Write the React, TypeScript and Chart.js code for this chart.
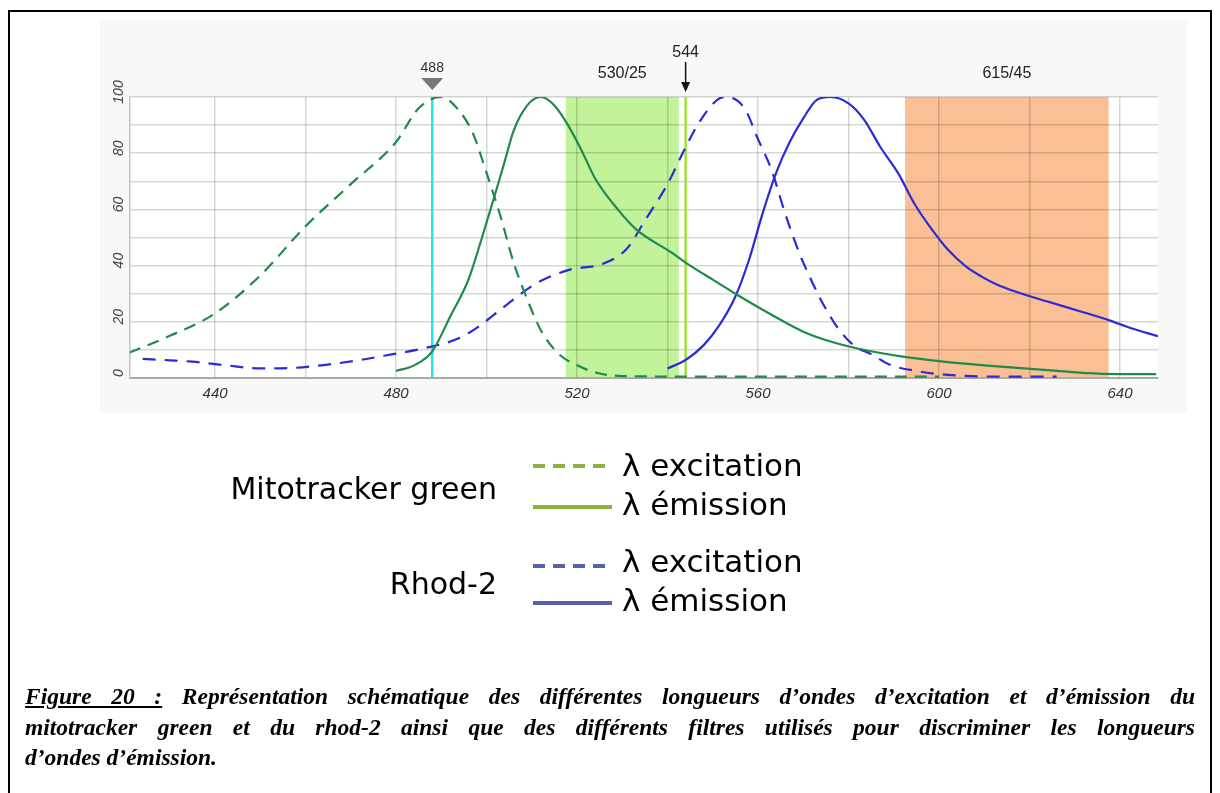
import React, { useEffect, useRef } from 'react';
import { Chart, registerables } from 'chart.js';

Chart.register(...registerables);

// ---------- data ----------
const X_MIN = 421.2;
const X_MAX = 648.4;
const X_GRID = [440, 460, 480, 500, 520, 540, 560, 580, 600, 620, 640];
const X_TICK_LABELS = [440, 480, 520, 560, 600, 640];
const Y_GRID = [0, 10, 20, 30, 40, 50, 60, 70, 80, 90, 100];
const Y_TICK_LABELS = [0, 20, 40, 60, 80, 100];

// Mitotracker green excitation
const MITO_EX_NM = [421, 430, 440, 450, 460, 470, 480, 485, 490, 494, 497, 500, 503, 506, 509, 512, 516, 520, 525, 530, 545, 570, 600];
const MITO_EX_VAL = [9, 15, 23, 36.5, 54, 69, 84, 96, 100, 95, 87, 73, 58, 41, 28, 17, 8.5, 4.5, 1.6, 0.7, 0.5, 0.5, 0.5];

// Mitotracker green emission
const MITO_EM_NM = [480, 484, 488, 492, 496, 499, 502, 504, 506, 509, 512, 515, 518, 521, 524, 529, 533, 541, 545, 550, 555, 563, 570, 576, 582, 592, 600, 610, 624, 636, 648];
const MITO_EM_VAL = [2.5, 4.5, 9.5, 22, 35, 50, 66, 77, 88, 97, 100, 97, 90, 81, 71, 60, 53, 44.5, 40, 35, 30, 22.5, 16.5, 13, 10.5, 7.6, 6, 4.5, 2.8, 1.5, 1.4];

// Rhod-2 excitation
const RHOD_EX_NM = [424, 430, 435, 442, 450, 456, 464, 472, 479, 486, 494, 498, 504, 511, 518, 526, 531, 535, 540, 543.5, 547, 551, 553, 557, 560, 563, 566, 569, 572, 574.5, 578, 581.5, 585, 589, 595, 602, 615, 626];
const RHOD_EX_VAL = [6.8, 6.3, 5.8, 4.6, 3.4, 3.5, 4.6, 6.4, 8.4, 10.5, 14.2, 18, 25.5, 33.7, 38.4, 40.8, 46, 56, 69, 80.5, 91, 99, 100, 96, 85, 74, 58.5, 45, 34, 26, 17, 11.2, 8.5, 4.8, 2.5, 1.1, 0.5, 0.5];

// Rhod-2 emission
const RHOD_EM_NM = [540, 544, 548, 551.5, 555, 558, 561, 564, 567, 570, 573, 576, 580, 583.5, 587, 591, 594.5, 598.5, 602, 606, 609.5, 613, 617, 624, 631.5, 637.5, 642.5, 648.4];
const RHOD_EM_VAL = [3.4, 6.4, 11.7, 18.9, 29, 42, 58.5, 73, 84, 92.4, 99, 100, 97.7, 91.8, 82.3, 72.8, 62.2, 52.7, 45.6, 39.6, 36, 33.1, 30.7, 27.2, 23.6, 20.6, 17.7, 14.9];

const LASER_NM = 488;
const LASER_LABEL = '488';
const SPLIT_NM = 544;
const SPLIT_LABEL = '544';
const FILTER_CENTERS = [530, 615];
const FILTER_WIDTHS = [25, 45];
const FILTER_LABELS = ['530/25', '615/45'];

const LEGEND_GROUPS = ['Mitotracker green', 'Rhod-2'];
const LEGEND_ITEMS = ['\u03bb excitation', '\u03bb \u00e9mission'];

const CAPTION_LEAD = 'Figure 20\u00a0:';
const CAPTION_LINES = [
  ' Repr\u00e9sentation sch\u00e9matique des diff\u00e9rentes longueurs d\u2019ondes d\u2019excitation et d\u2019\u00e9mission du',
  'mitotracker green et du rhod-2 ainsi que des diff\u00e9rents filtres utilis\u00e9s pour discriminer les longueurs',
  'd\u2019ondes d\u2019\u00e9mission.',
];

// ---------- styles ----------
const GREEN = '#1f8a4c';
const BLUE = '#2b2bd6';
const FILTER_COLORS = ['#c2f29a', '#fbbf95'];
const LASER_COLOR = '#22e4f2';
const SPLIT_COLOR = '#9ee03a';
const GRID_COLOR = 'rgba(0,0,0,0.16)';
const LEGEND_COLORS = ['#8cb43c', '#5560b0'];
const SANS = '"Liberation Sans", Arial, sans-serif';

const toPts = (nm: number[], v: number[]) => nm.map((x, i) => ({ x, y: v[i] }));

const decorPlugin = {
  id: 'decor',
  beforeDraw(chart: any) {
    const { ctx, chartArea: a, scales } = chart;
    const x = scales.x;
    ctx.save();
    ctx.fillStyle = '#ffffff';
    ctx.fillRect(a.left, a.top, a.right - a.left, a.bottom - a.top);
    FILTER_CENTERS.forEach((c, i) => {
      const l = x.getPixelForValue(c - FILTER_WIDTHS[i] / 2);
      const r = x.getPixelForValue(c + FILTER_WIDTHS[i] / 2);
      ctx.fillStyle = FILTER_COLORS[i];
      ctx.fillRect(l, a.top, r - l, a.bottom - a.top);
    });
    ctx.restore();
  },
  beforeDatasetsDraw(chart: any) {
    const { ctx, chartArea: a, scales } = chart;
    const x = scales.x;
    ctx.save();
    ctx.lineWidth = 2.5;
    ctx.strokeStyle = LASER_COLOR;
    let px = x.getPixelForValue(LASER_NM);
    ctx.beginPath();
    ctx.moveTo(px, a.top);
    ctx.lineTo(px, a.bottom);
    ctx.stroke();
    ctx.strokeStyle = SPLIT_COLOR;
    px = x.getPixelForValue(SPLIT_NM);
    ctx.beginPath();
    ctx.moveTo(px, a.top);
    ctx.lineTo(px, a.bottom);
    ctx.stroke();
    ctx.restore();
  },
  afterDraw(chart: any) {
    const { ctx, chartArea: a, scales } = chart;
    const x = scales.x;
    const y = scales.y;
    ctx.save();
    // y tick labels (rotated)
    ctx.fillStyle = '#444';
    ctx.font = 'italic 14px ' + SANS;
    ctx.textAlign = 'center';
    ctx.textBaseline = 'middle';
    Y_TICK_LABELS.forEach((v) => {
      const py = y.getPixelForValue(v) - 5;
      ctx.save();
      ctx.translate(a.left - 11, py);
      ctx.rotate(-Math.PI / 2);
      ctx.fillText(String(v), 0, 0);
      ctx.restore();
    });
    // laser marker
    const lx = x.getPixelForValue(LASER_NM);
    ctx.fillStyle = '#333';
    ctx.font = '14px ' + SANS;
    ctx.fillText(LASER_LABEL, lx, a.top - 29);
    ctx.fillStyle = '#777';
    ctx.beginPath();
    ctx.moveTo(lx - 11, a.top - 19);
    ctx.lineTo(lx + 11, a.top - 19);
    ctx.lineTo(lx, a.top - 7);
    ctx.closePath();
    ctx.fill();
    // split marker
    const sx = x.getPixelForValue(SPLIT_NM);
    ctx.fillStyle = '#222';
    ctx.font = '16px ' + SANS;
    ctx.fillText(SPLIT_LABEL, sx, a.top - 44);
    ctx.strokeStyle = '#111';
    ctx.lineWidth = 1.5;
    ctx.beginPath();
    ctx.moveTo(sx, a.top - 35);
    ctx.lineTo(sx, a.top - 12);
    ctx.stroke();
    ctx.fillStyle = '#111';
    ctx.beginPath();
    ctx.moveTo(sx - 4.5, a.top - 15);
    ctx.lineTo(sx + 4.5, a.top - 15);
    ctx.lineTo(sx, a.top - 5);
    ctx.closePath();
    ctx.fill();
    // filter labels
    ctx.fillStyle = '#222';
    ctx.font = '16px ' + SANS;
    FILTER_CENTERS.forEach((c, i) => {
      ctx.fillText(FILTER_LABELS[i], x.getPixelForValue(c), a.top - 23);
    });
    ctx.restore();
  },
};

function SpectraChart() {
  const ref = useRef<HTMLCanvasElement | null>(null);
  useEffect(() => {
    if (!ref.current) return;
    const ds = (nm: number[], v: number[], color: string, dash: number[]) => ({
      data: toPts(nm, v),
      borderColor: color,
      borderWidth: 2.2,
      borderDash: dash,
      pointRadius: 0,
      fill: false,
      cubicInterpolationMode: 'monotone' as const,
    });
    const chart = new Chart(ref.current, {
      type: 'line',
      data: {
        datasets: [
          ds(MITO_EX_NM, MITO_EX_VAL, GREEN, [12, 8]),
          ds(MITO_EM_NM, MITO_EM_VAL, GREEN, []),
          ds(RHOD_EX_NM, RHOD_EX_VAL, BLUE, [13, 9]),
          ds(RHOD_EM_NM, RHOD_EM_VAL, BLUE, []),
        ],
      },
      options: {
        responsive: false,
        animation: false,
        layout: { padding: { left: 0, top: 97, right: 62, bottom: 0 } },
        plugins: { legend: { display: false }, tooltip: { enabled: false } },
        scales: {
          x: {
            type: 'linear',
            min: X_MIN,
            max: X_MAX,
            afterBuildTicks: (s: any) => {
              s.ticks = X_GRID.map((v) => ({ value: v }));
            },
            afterFit: (s: any) => {
              s.height = 52;
            },
            grid: { color: GRID_COLOR, lineWidth: 1.5, drawTicks: false },
            border: { display: true, color: '#aaaaaa', width: 2 },
            ticks: {
              autoSkip: false,
              maxRotation: 0,
              padding: 7,
              color: '#333',
              font: { family: SANS, size: 15, style: 'italic' },
              callback: (v: any) => (X_TICK_LABELS.includes(Number(v)) ? String(v) : ''),
            },
          },
          y: {
            type: 'linear',
            min: 0,
            max: 100,
            afterBuildTicks: (s: any) => {
              s.ticks = Y_GRID.map((v) => ({ value: v }));
            },
            afterFit: (s: any) => {
              s.width = 130;
            },
            grid: { color: GRID_COLOR, lineWidth: 1.5, drawTicks: false },
            border: { display: true, color: '#c4c4c4', width: 1.5 },
            ticks: { display: false },
          },
        },
      },
      plugins: [decorPlugin],
    } as any);
    return () => chart.destroy();
  }, []);
  return (
    <canvas
      ref={ref}
      width={1220}
      height={430}
      style={{ position: 'absolute', left: 0, top: 0, width: 1220, height: 430 }}
    />
  );
}

function Legend() {
  const groupY = [488, 583];
  const lineY = [[466, 507], [566, 603]];
  const textY = [[465, 504], [561, 600]];
  const font = '"DejaVu Sans", sans-serif';
  return (
    <svg width={1220} height={793} style={{ position: 'absolute', left: 0, top: 0 }}>
      {LEGEND_GROUPS.map((g, gi) => (
        <g key={g}>
          <text x={497} y={groupY[gi]} textAnchor="end" dominantBaseline="central" fontFamily={font} fontSize={30} fill="#000">
            {g}
          </text>
          {LEGEND_ITEMS.map((it, ii) => (
            <g key={it}>
              <line
                x1={533}
                x2={612}
                y1={lineY[gi][ii]}
                y2={lineY[gi][ii]}
                stroke={LEGEND_COLORS[gi]}
                strokeWidth={4}
                strokeDasharray={ii === 0 ? '12 8' : undefined}
              />
              <text x={622} y={textY[gi][ii]} dominantBaseline="central" fontFamily={font} fontSize={31} fill="#000">
                {it}
              </text>
            </g>
          ))}
        </g>
      ))}
    </svg>
  );
}

function Caption() {
  const tops = [681, 712, 742];
  const base: React.CSSProperties = {
    position: 'absolute',
    left: 25,
    width: 1170,
    fontFamily: '"Liberation Serif", "Times New Roman", serif',
    fontWeight: 'bold',
    fontStyle: 'italic',
    fontSize: 23.5,
    lineHeight: '30px',
    color: '#000',
  };
  return (
    <>
      {CAPTION_LINES.map((t, i) => (
        <div
          key={i}
          style={{
            ...base,
            top: tops[i],
            textAlign: i < 2 ? 'justify' : 'left',
            textAlignLast: i < 2 ? 'justify' : 'left',
          } as React.CSSProperties}
        >
          {i === 0 ? <span style={{ textDecoration: 'underline' }}>{CAPTION_LEAD}</span> : null}
          {t}
        </div>
      ))}
    </>
  );
}

export default function App() {
  return (
    <div>
      <div style={{ position: 'absolute', left: 100, top: 20, width: 1087, height: 393, background: '#f8f8f8' }} />
      <SpectraChart />
      <div
        style={{
          position: 'absolute',
          left: 8,
          top: 10,
          width: 1204,
          height: 783,
          borderTop: '2px solid #000',
          borderLeft: '2px solid #000',
          borderRight: '2px solid #000',
          boxSizing: 'border-box',
        }}
      />
      <Legend />
      <Caption />
    </div>
  );
}
